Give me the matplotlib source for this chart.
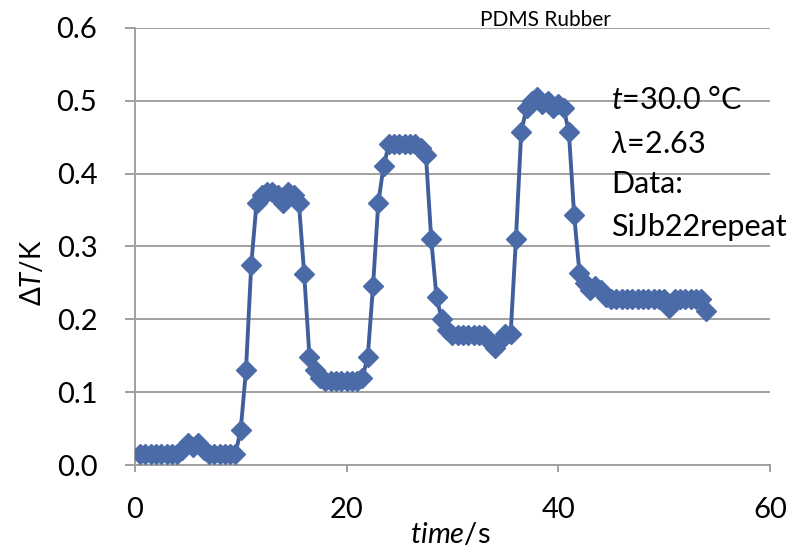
import matplotlib
matplotlib.use('Agg')
import matplotlib.pyplot as plt

BLUE = '#4A6BA8'
LINE = '#3F5F9C'
GRID = '#A0A0A0'

plt.rcParams['font.family'] = ['Lato', 'DejaVu Sans']
plt.rcParams['mathtext.fontset'] = 'custom'
plt.rcParams['mathtext.it'] = 'Lato:italic'
plt.rcParams['mathtext.rm'] = 'Lato'

# === DATA ===
time_s = [0.5, 1.0, 1.5, 2.0, 2.5, 3.0, 3.5, 4.0, 4.5, 5.0,
          5.5, 6.0, 6.5, 7.0, 7.5, 8.0, 8.5, 9.0, 9.5, 10.0,
          10.5, 11.0, 11.5, 12.0, 12.5, 13.0, 13.5, 14.0, 14.5, 15.0,
          15.5, 16.0, 16.5, 17.0, 17.5, 18.0, 18.5, 19.0, 19.5, 20.0,
          20.5, 21.0, 21.5, 22.0, 22.5, 23.0, 23.5, 24.0, 24.5, 25.0,
          25.5, 26.0, 26.5, 27.0, 27.5, 28.0, 28.5, 29.0, 29.5, 30.0,
          30.5, 31.0, 31.5, 32.0, 32.5, 33.0, 33.5, 34.0, 34.5, 35.0,
          35.5, 36.0, 36.5, 37.0, 37.5, 38.0, 38.5, 39.0, 39.5, 40.0,
          40.5, 41.0, 41.5, 42.0, 42.5, 43.0, 43.5, 44.0, 44.5, 45.0,
          45.5, 46.0, 46.5, 47.0, 47.5, 48.0, 48.5, 49.0, 49.5, 50.0,
          50.5, 51.0, 51.5, 52.0, 52.5, 53.0, 53.5, 54.0]
delta_T = [0.015, 0.015, 0.015, 0.015, 0.015, 0.015, 0.015, 0.015, 0.02, 0.03,
           0.025, 0.03, 0.02, 0.015, 0.015, 0.015, 0.015, 0.015, 0.015, 0.048,
           0.13, 0.275, 0.36, 0.37, 0.375, 0.375, 0.37, 0.36, 0.375, 0.37,
           0.36, 0.262, 0.148, 0.13, 0.12, 0.115, 0.115, 0.115, 0.115, 0.115,
           0.115, 0.115, 0.12, 0.148, 0.245, 0.36, 0.41, 0.44, 0.44, 0.44,
           0.44, 0.44, 0.44, 0.435, 0.425, 0.31, 0.23, 0.2, 0.185, 0.178,
           0.178, 0.178, 0.178, 0.178, 0.178, 0.178, 0.17, 0.16, 0.17, 0.18,
           0.18, 0.31, 0.457, 0.49, 0.5, 0.505, 0.495, 0.5, 0.49, 0.495,
           0.49, 0.457, 0.343, 0.264, 0.25, 0.24, 0.245, 0.24, 0.23, 0.228,
           0.228, 0.228, 0.228, 0.228, 0.228, 0.228, 0.228, 0.228, 0.228, 0.228,
           0.215, 0.228, 0.228, 0.228, 0.228, 0.228, 0.228, 0.212]

x_ticks = [0, 20, 40, 60]
y_ticks = [0.0, 0.1, 0.2, 0.3, 0.4, 0.5, 0.6]

# === FIGURE ===
fig = plt.figure(figsize=(7.93, 5.5), dpi=100)
ax = fig.add_axes([0.170, 0.1545, 0.801, 0.795])

ax.plot(time_s, delta_T, color=LINE, lw=2.8, marker='D', markersize=10,
        markerfacecolor=BLUE, markeredgecolor=BLUE, zorder=3)

ax.set_xlim(0, 60)
ax.set_ylim(0, 0.6)
ax.set_xticks(x_ticks)
ax.set_yticks(y_ticks)
ax.set_yticklabels([f'{v:.1f}' for v in y_ticks])
ax.yaxis.grid(True, color=GRID, lw=1.4)
ax.set_axisbelow(True)
for s in ['top', 'right']:
    ax.spines[s].set_visible(False)
for s in ['left', 'bottom']:
    ax.spines[s].set_color(GRID)
    ax.spines[s].set_linewidth(1.4)
ax.tick_params(axis='both', labelsize=21, colors=GRID, labelcolor='black',
               width=1.4)
ax.tick_params(axis='y', length=7, pad=20)
ax.tick_params(axis='x', length=5, pad=18)

ax.set_xlabel(r'$time$/s', fontsize=21)
ax.xaxis.set_label_coords(0.497, -0.128)
ax.set_ylabel(r'$\Delta T$/K', fontsize=20)
ax.yaxis.set_label_coords(-0.14, 0.44)

# Annotations
ax.text(38.8, 0.611, 'PDMS Rubber', ha='center', va='center', fontsize=15)
ax.text(45.0, 0.501, r'$t$=30.0 °C', ha='left', va='center', fontsize=22)
ax.text(45.0, 0.440, r'$\lambda$=2.63', ha='left', va='center', fontsize=22)
ax.text(45.0, 0.385, 'Data:', ha='left', va='center', fontsize=22)
ax.text(45.0, 0.326, 'SiJb22repeat', ha='left', va='center', fontsize=22)

fig.savefig('out.png', dpi=100, facecolor='white')
plt.close(fig)
